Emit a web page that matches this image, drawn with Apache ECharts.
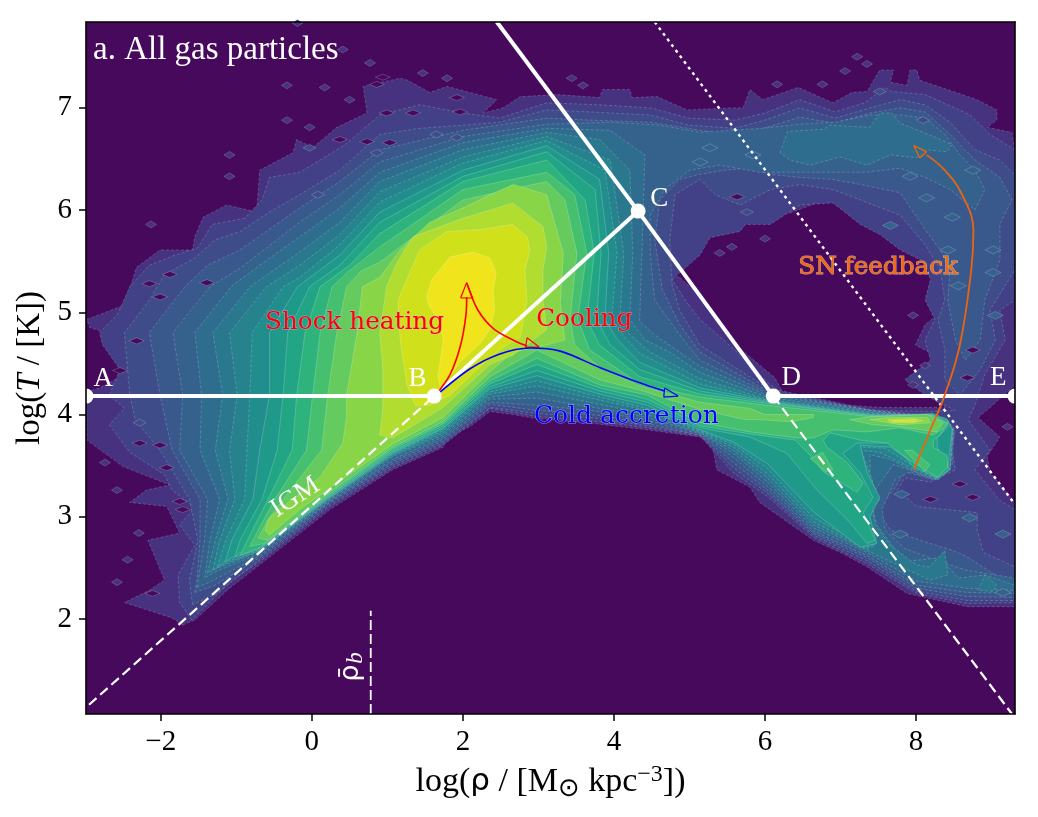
<!DOCTYPE html>
<html>
<head>
<meta charset="utf-8">
<script src="https://cdn.jsdelivr.net/npm/echarts@6/dist/echarts.min.js"></script>
<style>html,body{margin:0;padding:0;background:#fff}#chart{width:1038px;height:817px}</style>
</head>
<body>
<div id="chart"></div>
<script>
// Phase diagram of gas particles: filled density contours in the (log rho, log T) plane.
// Every contour is a list of x,y pairs in axis units: x = log rho, y = log T.
const xRange = [-2.99, 9.31];
const yRange = [1.07, 7.84];
const xTicks = [-2, 0, 2, 4, 6, 8];
const yTicks = [2, 3, 4, 5, 6, 7];
const bandColors = ['#46327e','#424086','#3e4c8a','#39588c','#34628d','#2f6d8e','#2a788e','#26838e','#218e8d','#1f998a','#22a585','#2eb37c','#46c06f','#65cb5e','#89d548','#b0dd2f','#d0e11c','#f0e51c'];

const contour01 = [-1.71,1.94,-1.85,2.01,-2.48,2.16,-2.15,2.28,-1.95,2.38,-2.17,2.77,-1.75,2.84,-1.92,3.10,-2.41,3.14,-2.19,3.26,-1.88,3.31,-2.50,3.49,-2.98,3.75,-2.98,3.98,-2.99,4.22,-2.81,4.26,-2.48,4.39,-2.65,4.61,-2.41,4.73,-2.94,4.85,-2.98,4.93,-2.48,5.07,-2.32,5.44,-2.01,5.61,-1.58,5.61,-1.55,5.74,-1.44,5.93,-1.13,6.05,-0.73,5.98,-0.69,6.39,-0.25,6.56,-0.20,6.69,0.01,6.61,0.33,6.81,0.73,6.95,0.68,7.21,1.17,7.29,1.27,7.27,1.56,7.15,1.79,7.21,2.45,7.08,2.27,6.95,2.53,7.00,2.76,7.11,3.25,7.13,3.81,7.10,3.85,7.18,4.21,7.18,4.24,7.10,4.57,7.11,4.97,6.98,5.58,7.00,5.71,7.00,5.80,7.18,5.97,7.08,6.44,7.20,6.90,7.05,7.15,7.15,7.35,7.16,7.52,7.37,7.70,7.37,7.66,7.25,7.88,7.22,7.92,7.37,8.01,7.37,8.05,7.27,8.81,7.08,9.07,6.98,9.07,6.88,8.94,6.81,9.27,6.76,9.31,6.56,9.31,4.29,8.98,4.07,8.82,3.97,9.11,3.78,8.94,3.59,8.98,3.43,9.31,3.14,9.31,2.12,8.68,2.12,7.88,2.25,7.35,2.51,7.00,2.65,6.64,2.77,5.93,3.14,5.80,3.29,5.36,3.46,5.31,3.68,5.14,3.78,4.44,3.85,3.64,3.92,2.98,3.96,2.66,4.00,2.36,4.03,2.09,3.88,1.79,3.78,1.74,3.68,1.07,3.46,0.24,3.07,-0.69,2.53,-1.09,2.30,-1.55,1.99];
const contour01Hole = [4.61,5.40,5.10,5.61,5.14,5.79,5.60,5.83,5.60,6.00,5.93,5.95,6.33,5.97,6.90,6.13,7.22,5.93,7.48,5.84,7.66,5.74,7.88,5.61,8.23,5.58,8.32,5.39,8.23,5.22,8.36,5.02,8.12,4.88,7.99,4.68,8.38,4.53,7.99,4.29,8.25,4.14,8.39,4.07,7.52,4.07,6.46,4.12,6.24,4.21,6.13,4.36,5.58,4.70,5.10,5.19,4.87,5.34];
const contour02 = [-1.59,1.99,-1.75,2.16,-1.77,2.43,-1.55,2.72,-1.75,2.92,-1.55,3.09,-1.85,3.26,-1.95,3.41,-2.41,3.63,-2.68,3.90,-2.48,4.06,-2.68,4.19,-2.54,4.44,-2.77,4.68,-2.81,4.80,-2.57,4.98,-2.41,5.25,-2.15,5.46,-1.81,5.56,-1.51,5.63,-1.32,5.86,-0.89,5.92,-0.66,6.10,-0.56,6.32,-0.16,6.37,0.11,6.49,0.44,6.64,0.90,6.93,1.43,7.03,2.00,6.95,2.49,6.90,3.11,7.05,3.81,7.03,4.48,7.00,4.99,6.90,5.60,6.88,6.00,6.95,6.46,7.08,6.93,6.96,7.32,7.05,7.59,7.20,7.68,7.16,8.12,7.13,8.72,6.93,8.98,6.74,9.31,6.59,9.31,5.12,9.11,5.02,9.18,4.73,8.91,4.39,8.78,4.09,8.69,3.95,8.98,3.65,8.78,3.46,9.11,3.16,9.31,3.07,9.31,2.16,8.68,2.15,8.01,2.25,7.35,2.54,6.64,2.80,6.03,3.20,5.58,3.43,5.14,3.79,4.44,3.87,3.81,3.93,2.98,3.98,2.36,4.06,1.74,3.70,1.07,3.48,0.24,3.10,-0.69,2.56,-1.09,2.36,-1.48,2.07];
const contour02Hole = [4.77,5.32,5.14,5.56,5.27,5.73,5.67,5.79,5.74,5.86,6.07,5.86,6.46,6.05,6.90,6.07,7.26,5.86,7.52,5.76,7.79,5.61,8.12,5.49,8.19,5.32,8.12,5.12,8.25,4.93,8.12,4.73,8.19,4.53,7.85,4.34,8.12,4.19,8.52,4.04,8.19,4.03,7.43,4.04,6.46,4.10,6.07,4.29,5.60,4.63,5.14,4.93,4.99,5.07];
const contour03 = [-1.58,2.14,-1.62,2.38,-1.51,2.77,-1.62,3.17,-2.01,3.65,-2.34,3.95,-2.41,4.19,-2.48,4.80,-2.15,5.12,-1.95,5.37,-1.55,5.53,-1.28,5.71,-0.95,5.79,-0.56,5.98,-0.16,6.15,0.37,6.39,0.90,6.74,1.43,6.80,2.00,6.83,2.49,6.86,3.11,6.98,3.68,6.96,4.48,6.93,4.99,6.83,5.60,6.80,6.00,6.88,6.46,7.00,6.93,6.90,7.39,7.00,7.79,7.08,8.12,7.03,8.45,6.86,8.78,6.59,9.11,6.49,9.31,6.34,9.31,5.42,8.98,5.02,9.05,4.73,8.85,4.44,8.58,4.19,8.38,4.34,8.38,4.63,8.29,4.93,8.38,5.12,8.32,5.42,8.12,5.66,7.79,5.95,7.26,6.10,6.90,6.20,6.46,6.25,6.07,6.20,5.67,6.05,5.34,6.15,5.14,6.30,4.81,6.15,4.74,5.71,4.77,5.27,4.87,5.02,5.14,4.68,6.03,4.26,7.39,4.05,8.38,3.97,8.52,3.85,8.48,3.65,8.52,3.46,8.19,3.34,7.85,3.38,7.75,3.26,8.01,3.10,8.81,3.04,8.81,2.87,8.89,2.65,9.31,2.51,9.31,2.18,8.68,2.18,8.01,2.27,7.35,2.57,6.64,2.82,6.03,3.23,5.58,3.48,5.14,3.80,4.44,3.89,3.81,3.96,2.98,4.01,2.36,4.07,1.74,3.72,1.07,3.50,0.24,3.12,-0.69,2.58,-1.28,2.24];
const contour04 = [-1.55,2.26,-1.52,2.38,-1.48,2.77,-1.48,3.17,-1.85,3.65,-2.01,4.19,-2.15,4.80,-1.68,5.25,-1.38,5.46,-0.95,5.61,-0.16,6.02,0.37,6.28,0.90,6.59,2.00,6.78,3.11,6.90,3.68,6.88,4.48,6.86,5.14,6.78,5.60,6.73,6.07,6.82,6.46,6.91,6.93,6.85,7.39,6.95,7.79,7.00,8.12,6.96,8.45,6.74,8.78,6.49,9.11,6.32,9.27,6.10,9.11,5.86,9.11,5.51,8.91,5.12,8.85,4.73,8.65,4.53,8.52,4.73,8.42,5.12,8.45,5.42,8.32,5.61,8.12,5.81,7.79,6.17,7.26,6.25,6.90,6.30,6.46,6.32,6.07,6.35,5.74,6.41,5.47,6.39,5.14,6.35,4.87,6.30,4.61,6.10,4.54,5.71,4.64,5.22,4.87,4.88,5.14,4.61,6.03,4.23,7.39,4.04,8.40,3.96,8.50,3.85,8.48,3.51,8.25,3.36,7.85,3.44,7.70,3.26,7.48,3.07,7.66,2.87,8.05,2.77,8.49,2.67,8.67,2.61,9.31,2.31,9.31,2.21,8.67,2.22,8.01,2.30,7.35,2.60,6.64,2.84,6.03,3.26,5.58,3.53,5.14,3.80,4.44,3.91,3.81,3.99,2.98,4.04,2.36,4.10,1.74,3.74,1.07,3.52,0.24,3.14,-0.69,2.60,-1.28,2.33];
const contour05 = [-1.52,2.31,-1.42,2.77,-1.38,3.17,-1.75,3.65,-1.71,4.19,-1.84,4.80,-1.35,5.25,-0.95,5.43,-0.16,5.88,0.37,6.15,0.90,6.47,2.00,6.72,3.11,6.84,3.97,6.86,4.61,6.83,5.14,6.76,5.54,6.78,5.97,6.80,6.46,6.84,6.93,6.86,7.39,6.93,7.79,6.93,8.12,6.90,8.38,6.74,8.58,6.54,8.78,6.39,8.91,6.20,8.78,6.00,8.45,6.20,8.12,6.32,7.79,6.41,7.32,6.37,6.90,6.37,6.46,6.37,5.93,6.37,5.40,6.44,5.00,6.39,4.67,6.20,4.48,5.95,4.48,5.58,4.54,5.12,4.87,4.78,5.14,4.53,6.03,4.21,7.39,4.04,8.41,3.95,8.49,3.85,8.46,3.51,8.25,3.36,7.92,3.44,7.72,3.36,7.55,3.07,7.59,2.87,7.85,2.69,8.25,2.58,8.65,2.48,9.31,2.40,9.31,2.25,8.67,2.26,8.01,2.33,7.35,2.62,6.64,2.86,6.03,3.30,5.58,3.58,5.14,3.81,4.44,3.94,3.81,4.03,2.98,4.09,2.36,4.12,1.74,3.76,1.07,3.54,0.24,3.15,-0.69,2.62,-1.35,2.36];
const contour06 = [-1.42,2.40,-1.35,2.77,-1.22,3.17,-1.48,3.65,-1.46,4.19,-1.55,4.80,-1.07,5.25,-0.69,5.46,-0.16,5.74,0.37,6.02,0.90,6.37,2.00,6.66,3.11,6.80,3.95,6.78,4.41,6.54,4.37,5.58,4.34,4.91,4.54,4.78,5.14,4.47,6.03,4.19,7.39,4.04,8.38,3.94,8.48,3.85,8.42,3.60,8.45,3.46,8.28,3.36,7.99,3.44,7.70,3.51,7.39,3.19,7.48,2.92,7.85,2.56,8.32,2.60,8.56,2.40,8.91,2.43,9.31,2.33,9.31,2.28,8.67,2.30,8.01,2.37,7.35,2.65,6.64,2.89,6.03,3.34,5.58,3.62,5.14,3.82,4.44,3.97,3.81,4.06,2.98,4.16,2.36,4.15,1.74,3.78,1.07,3.56,0.24,3.16,-0.69,2.64,-1.28,2.46];
const contour06Arch = [6.20,6.56,6.30,6.77,6.77,6.79,6.86,6.83,7.39,6.81,7.52,6.95,7.68,6.95,7.79,6.85,8.23,6.72,8.48,6.64,8.41,6.57,8.15,6.59,8.01,6.51,7.66,6.54,7.35,6.44,6.99,6.52,6.60,6.44,6.33,6.49];
const contour07 = [-1.38,2.45,-1.28,2.77,-1.11,3.17,-1.28,3.65,-1.18,4.19,-1.31,4.80,-0.82,5.25,-0.16,5.59,0.37,5.88,0.90,6.28,2.00,6.59,3.11,6.76,3.81,6.69,4.21,6.39,4.25,5.58,4.21,4.93,4.41,4.73,4.74,4.61,5.14,4.41,6.03,4.17,7.39,4.03,8.41,3.94,8.49,3.85,8.45,3.46,8.29,3.36,7.99,3.44,7.66,3.56,7.39,3.61,7.39,3.19,7.46,2.92,7.66,2.72,8.00,2.53,8.18,2.51,8.38,2.67,8.42,2.43,8.18,2.38,7.35,2.67,6.64,2.92,6.03,3.38,5.58,3.65,5.14,3.82,4.44,4.00,3.81,4.10,2.98,4.22,2.36,4.17,1.74,3.80,1.07,3.59,0.24,3.17,-0.69,2.66,-1.24,2.50];
const contour07Spot = [8.82,2.28,8.91,2.43,9.07,2.33,9.02,2.27];
const contour08 = [-1.31,2.48,-1.22,2.77,-1.02,3.17,-1.09,3.65,-0.99,4.19,-1.09,4.80,-0.60,5.25,-0.16,5.46,0.37,5.76,0.90,6.18,2.00,6.52,3.11,6.72,3.95,6.49,4.13,5.58,4.08,4.93,4.21,4.78,4.48,4.61,5.14,4.35,6.03,4.15,7.39,4.02,8.42,3.94,8.49,3.85,8.45,3.46,8.28,3.37,7.99,3.46,7.52,3.63,7.26,3.65,7.39,3.36,7.52,3.17,7.32,2.97,7.46,2.72,7.35,2.68,6.64,2.95,6.03,3.42,5.58,3.68,5.14,3.83,4.44,4.04,3.81,4.14,2.98,4.28,2.36,4.20,1.74,3.82,1.07,3.60,0.24,3.18,-0.69,2.67,-1.18,2.53];
const contour09 = [-1.25,2.51,-1.14,2.77,-0.89,3.17,-0.86,3.65,-0.82,4.19,-0.79,4.80,-0.38,5.25,-0.16,5.34,0.37,5.66,0.90,6.08,2.00,6.46,3.11,6.68,3.88,6.39,4.04,5.58,3.97,4.93,4.15,4.75,4.34,4.60,5.14,4.30,6.03,4.14,7.39,4.01,8.42,3.94,8.48,3.85,8.45,3.48,8.28,3.38,7.99,3.48,7.59,3.67,7.26,3.68,7.42,3.36,7.48,3.17,7.36,2.97,7.47,2.74,7.35,2.70,6.64,2.99,6.03,3.47,5.58,3.71,5.14,3.84,4.44,4.06,3.81,4.17,2.98,4.33,2.36,4.22,1.74,3.84,1.07,3.61,0.24,3.19,-0.69,2.67,-1.14,2.56];
const contour10 = [-1.15,2.56,-1.06,2.77,-0.78,3.17,-0.69,3.65,-0.56,4.19,-0.56,4.80,-0.19,5.25,0.37,5.56,0.90,5.98,2.00,6.39,3.11,6.63,3.81,6.30,3.93,5.58,3.88,4.93,4.05,4.73,4.34,4.51,5.14,4.26,6.03,4.13,7.39,4.00,8.42,3.94,8.48,3.85,8.42,3.48,8.28,3.39,7.99,3.51,7.66,3.68,7.26,3.70,7.35,3.43,7.52,3.19,7.39,3.00,7.48,2.74,7.26,2.70,6.64,3.05,6.03,3.52,5.58,3.73,5.14,3.85,4.44,4.09,3.81,4.20,2.98,4.38,2.36,4.25,1.74,3.86,1.07,3.62,0.24,3.19,-0.69,2.68,-1.06,2.60];
const contour11 = [-1.02,2.61,-0.95,2.77,-0.66,3.17,-0.46,3.65,-0.38,4.19,-0.32,4.80,-0.03,5.25,0.37,5.46,0.90,5.88,2.00,6.33,3.11,6.57,3.75,6.20,3.83,5.58,3.77,4.93,3.95,4.68,4.34,4.44,5.14,4.23,6.03,4.12,7.39,3.99,8.22,4.01,8.42,3.95,8.42,3.88,8.28,3.77,8.28,3.68,8.45,3.46,8.28,3.38,7.96,3.49,7.70,3.72,7.22,3.72,7.03,3.62,7.26,3.43,7.43,3.19,7.30,3.04,7.46,2.77,7.35,2.74,7.09,2.97,6.69,3.26,6.29,3.62,5.80,3.78,5.14,3.87,4.44,4.12,3.81,4.23,2.98,4.43,2.36,4.27,1.74,3.87,1.07,3.63,0.24,3.20,-0.69,2.69,-0.95,2.65];
const contour12 = [-0.95,2.62,-0.82,2.82,-0.58,3.17,-0.26,3.65,-0.20,4.19,-0.09,4.80,0.11,5.25,0.50,5.46,0.90,5.77,2.00,6.28,3.11,6.49,3.62,6.10,3.74,5.58,3.64,4.93,3.81,4.68,4.34,4.37,5.14,4.20,6.03,4.11,7.39,3.99,8.22,4.00,8.42,3.92,8.32,3.80,8.23,3.75,8.23,3.68,8.41,3.60,8.42,3.48,8.28,3.39,7.96,3.53,7.79,3.62,7.62,3.72,7.26,3.75,6.86,3.82,6.77,3.75,6.82,3.68,7.09,3.53,7.30,3.33,7.22,3.24,6.77,3.44,6.60,3.60,6.40,3.75,5.80,3.81,5.14,3.89,4.44,4.15,3.81,4.26,2.98,4.49,2.36,4.30,1.74,3.89,1.07,3.64,0.24,3.21,-0.69,2.70];
const contour13 = [-0.82,2.71,-0.71,2.87,-0.49,3.17,-0.07,3.65,0.01,4.19,0.11,4.80,0.27,5.25,0.50,5.41,0.90,5.64,2.00,6.20,3.11,6.37,3.48,6.15,3.64,5.58,3.52,4.93,3.68,4.63,4.34,4.30,5.14,4.17,6.03,4.09,7.39,3.98,8.22,3.99,8.41,3.91,8.38,3.87,8.22,3.80,7.79,3.87,7.35,3.83,6.90,3.85,6.64,3.77,6.43,3.77,5.80,3.83,5.14,3.92,4.44,4.19,3.81,4.29,2.98,4.55,2.36,4.33,1.74,3.91,1.07,3.66,0.24,3.22,-0.62,2.74];
const contour13ArmA = [6.60,3.57,6.76,3.63,6.90,3.46,6.80,3.44];
const contour13ArmB = [7.85,3.65,7.95,3.65,8.18,3.51,8.12,3.44];
const contour14 = [-0.71,2.79,-0.58,2.97,-0.38,3.17,0.13,3.65,0.21,4.19,0.33,4.80,0.46,5.25,0.66,5.41,0.90,5.49,2.00,6.10,3.11,6.28,3.35,6.10,3.51,5.58,3.42,4.93,3.48,4.68,3.81,4.46,4.34,4.28,5.14,4.12,5.80,4.06,6.00,4.00,6.64,4.00,6.64,3.97,6.33,3.93,5.93,3.95,5.73,3.95,5.14,4.05,4.34,4.24,3.81,4.34,2.98,4.63,2.36,4.37,1.74,3.93,1.07,3.68,0.24,3.24,-0.58,2.77];
const contour14Arm = [7.12,3.95,7.43,3.98,8.15,4.00,8.36,3.92,8.27,3.83,7.79,3.88,7.43,3.90];
const contour15 = [-0.62,2.87,-0.56,2.99,0.11,3.39,0.41,3.72,0.46,3.98,0.46,4.19,0.60,4.80,0.67,5.25,0.90,5.34,1.17,5.61,1.56,5.88,2.00,6.02,2.36,6.15,2.67,6.25,3.11,6.15,3.33,5.58,3.29,5.09,3.35,4.73,3.11,4.68,2.66,4.61,2.36,4.42,1.74,3.97,1.07,3.71,0.24,3.28,-0.16,3.07,-0.56,2.82];
const contour15Arm = [7.39,3.95,7.62,3.97,8.15,3.97,8.19,3.92,7.79,3.90];
const contour16 = [0.90,3.80,0.94,4.07,0.94,4.19,0.94,4.44,0.90,4.80,0.99,5.25,1.13,5.49,1.34,5.74,2.00,5.92,2.45,6.02,2.66,6.07,3.06,5.84,3.11,5.64,3.06,5.41,3.06,5.12,3.11,4.83,2.66,4.58,2.36,4.49,1.74,4.07,1.07,3.77];
const contour16Arm = [7.62,3.95,7.96,3.96,8.09,3.94,7.96,3.92,7.66,3.92];
const contour17 = [1.14,5.12,1.43,5.61,1.79,5.79,2.23,5.81,2.66,5.86,2.85,5.74,2.89,5.61,2.82,5.41,2.85,5.12,2.76,4.76,2.58,4.68,2.36,4.56,1.83,4.19,1.56,4.09,1.37,4.09,1.26,4.29,1.17,4.73];
const contour17Arm = [7.69,3.94,8.01,3.95,8.01,3.93,7.69,3.93];
const contour18 = [1.52,5.15,1.59,5.32,1.83,5.54,2.13,5.59,2.36,5.53,2.44,5.39,2.40,5.19,2.42,5.02,2.36,4.83,2.23,4.70,1.96,4.51,1.79,4.34,1.72,4.22,1.67,4.37,1.74,4.73,1.70,4.90,1.56,5.05];

// Isolated noise in the sparse outskirts: lone cells above the first level, empty cells inside it,
// and slightly fuller cells scattered through the low-density envelope.
const loneCells = [[-1.09,6.54],[-1.09,6.33],[-0.33,6.88],[-0.03,6.81],[-0.33,7.22],[0.41,7.57],[-2.13,5.86],[1.47,7.34],[1.79,7.29],[3.44,7.29],[3.59,7.22],[7.22,7.50],[7.35,7.43],[7.06,7.36],[6.16,7.23],[6.76,7.23],[6.00,5.72],[5.56,5.64],[5.40,5.58],[7.96,4.97],[8.12,4.48],[7.96,4.29],[-2.58,3.26],[-2.74,3.53],[-2.44,2.58],[-2.29,2.84],[-2.58,2.36],[-0.19,7.83],[0.77,7.44],[9.21,3.88],[0.50,7.08],[0.17,7.20]];
const emptyCells = [[-2.01,5.15],[-1.88,5.37],[-1.39,5.29],[-2.15,5.28],[0.37,6.69],[0.73,6.67],[0.86,7.23],[1.92,7.10],[1.34,6.95],[1.96,6.96],[0.94,7.30],[-2.32,4.72],[-2.54,4.43],[-2.28,3.72],[-2.01,3.70],[-1.92,3.48],[-1.75,3.15],[-2.11,2.25],[5.63,6.13],[8.68,4.36],[0.99,6.95],[1.03,6.66],[8.75,4.63],[8.19,3.17],[8.58,3.32],[8.75,3.19],[-1.71,3.07]];
const fullerCells = [[-2.28,3.92],[-0.03,6.61],[0.86,6.56],[0.08,6.15],[1.65,6.74],[1.92,6.71],[8.09,6.88],[7.52,7.16],[5.76,5.98]];
const denseCells = [[8.75,6.39],[7.92,6.33],[8.14,6.12],[8.48,5.93],[7.66,5.85],[9.02,5.61],[8.42,5.61],[9.02,5.39],[8.56,5.26],[9.05,4.97],[5.27,6.61],[5.84,6.54],[5.14,6.47],[7.81,3.22],[7.79,2.83],[8.71,2.99],[9.15,2.83],[9.15,2.26]];

// Fiducial phase lines.
const lineAB = [[-2.99,4.18],[1.62,4.18]];
const lineBC = [[1.62,4.18],[4.32,5.99]];
const lineCTop = [[2.45,7.84],[4.32,5.99]];
const lineCD = [[4.32,5.99],[6.11,4.18]];
const lineDE = [[6.11,4.18],[9.31,4.18]];
const lineDotted = [[4.54,7.84],[9.31,3.12]];
const lineIGM = [[-2.95,1.16],[1.62,4.18]];
const lineDiagonal = [[6.11,4.18],[9.27,1.07]];
const lineMeanDensity = [[0.78,1.07],[0.78,2.08]];
const phaseNodes = [[-2.99,4.18],[1.62,4.18],[4.32,5.99],[6.11,4.18],[9.31,4.18]];

// Evolution tracks with their arrow heads.
const trackShock = [[1.62,4.17],[1.83,4.39],[1.97,4.68],[2.04,4.97],[2.05,5.15]];
const headShock = [[1.97,5.14],[2.05,5.29],[2.13,5.14],[1.97,5.14]];
const trackCooling = [[2.05,5.29],[2.20,5.02],[2.42,4.83],[2.69,4.72],[2.85,4.67]];
const headCooling = [[2.85,4.75],[3.01,4.66],[2.83,4.66],[2.85,4.75]];
const trackCold = [[1.62,4.17],[2.08,4.44],[2.48,4.59],[2.89,4.65],[3.29,4.62],[3.81,4.46],[4.34,4.31],[4.67,4.23]];
const headCold = [[4.67,4.26],[4.85,4.18],[4.66,4.17],[4.67,4.26]];
const trackFeedback = [[7.97,3.46],[8.19,3.85],[8.38,4.19],[8.58,4.68],[8.73,5.41],[8.76,5.80],[8.61,6.15],[8.38,6.39],[8.14,6.54]];
const headFeedback = [[8.05,6.51],[7.97,6.63],[8.14,6.57],[8.05,6.51]];

const bands = [
  {rings:[contour01], holes:[contour01Hole]},
  {rings:[contour02], holes:[contour02Hole]},
  {rings:[contour03]},
  {rings:[contour04]},
  {rings:[contour05]},
  {rings:[contour06, contour06Arch]},
  {rings:[contour07, contour07Spot]},
  {rings:[contour08]},
  {rings:[contour09]},
  {rings:[contour10]},
  {rings:[contour11]},
  {rings:[contour12]},
  {rings:[contour13, contour13ArmA, contour13ArmB]},
  {rings:[contour14, contour14Arm]},
  {rings:[contour15, contour15Arm]},
  {rings:[contour16, contour16Arm]},
  {rings:[contour17, contour17Arm]},
  {rings:[contour18]}
];

// Turns a flat x,y list into a closed subpath; the winding decides whether it fills or cuts.
function ringPath(flat, api, clockwise) {
  const pts = [];
  for (let i = 0; i < flat.length; i += 2) pts.push(api.coord([flat[i], flat[i + 1]]));
  let area = 0;
  pts.forEach((p, i) => { const q = pts[(i + 1) % pts.length]; area += p[0] * q[1] - q[0] * p[1]; });
  if ((area > 0) !== clockwise) pts.reverse();
  return 'M' + pts.map(p => p[0].toFixed(1) + ' ' + p[1].toFixed(1)).join('L') + 'Z';
}

function renderBand(params, api) {
  const band = bands[params.dataIndex];
  let d = band.rings.map(r => ringPath(r, api, true)).join('');
  if (band.holes) d += band.holes.map(r => ringPath(r, api, false)).join('');
  return {
    type: 'path',
    shape: { pathData: d },
    style: {
      fill: bandColors[params.dataIndex],
      stroke: 'rgba(255,255,255,0.32)',
      lineWidth: 0.6,
      lineDash: params.dataIndex < 9 ? [3, 2] : null
    }
  };
}

const whiteLine = (data, width, dash) => ({
  type: 'line', data, showSymbol: false, silent: true, z: 6, clip: true,
  lineStyle: { color: '#fff', width, type: dash || 'solid', cap: 'butt' }
});
const curve = (data, color, width, smooth) => ({
  type: 'line', data, showSymbol: false, silent: true, z: 7, smooth,
  lineStyle: { color, width }
});
const cells = (data, size, color) => ({
  type: 'scatter', data, symbol: 'diamond', symbolSize: size, silent: true, z: 3,
  itemStyle: { color, opacity: 1, borderColor: 'rgba(255,255,255,0.3)', borderWidth: 0.6 }
});
const serif = 'Liberation Serif';
const dejavu = 'DejaVu Serif';
const note = (x, y, text, color, font, size, extra) => ({
  value: [x, y],
  label: {
    show: true, position: 'inside', formatter: text, color, fontFamily: font, fontSize: size,
    align: 'left', verticalAlign: 'middle', ...extra
  }
});
const outlined = (c) => ({ textBorderColor: c, textBorderWidth: 1 });

const annotations = [
  note(-0.62, 4.90, 'Shock heating', '#ff0000', dejavu, 24.7, outlined('rgba(225,190,255,0.6)')),
  note(2.97, 4.93, 'Cooling', '#ff0000', dejavu, 24.7, outlined('rgba(225,190,255,0.6)')),
  note(2.94, 3.98, 'Cold accretion', '#0000ff', dejavu, 25, outlined('rgba(225,220,255,0.6)')),
  note(6.44, 5.44, 'SN feedback', '#f26a13', dejavu, 24.7, outlined('rgba(255,215,170,0.7)')),
  note(-2.89, 4.35, 'A', '#fff', serif, 27),
  note(1.28, 4.35, 'B', '#fff', serif, 27),
  note(4.48, 6.11, 'C', '#fff', serif, 27),
  note(6.22, 4.36, 'D', '#fff', serif, 27),
  note(8.98, 4.36, 'E', '#fff', serif, 27),
  note(-0.22, 3.19, 'IGM', '#fff', serif, 27, { align: 'center', rotate: 33 }),
  note(0.52, 1.53, '{r|ρ̄}{b|b}', '#fff', serif, 27, {
    align: 'center', rotate: 90,
    rich: { r: { fontFamily: 'DejaVu Sans', fontSize: 27, color: '#fff' },
            b: { fontFamily: serif, fontStyle: 'italic', fontSize: 23, color: '#fff', padding: [10, 0, 0, 1] } }
  })
];

const axisText = { color: '#000', fontFamily: serif, fontSize: 29 };
const minusSign = v => String(v).replace('-', '\u2212');
const frameLine = { show: true, lineStyle: { color: '#000', width: 1.6 } };

const chart = echarts.init(document.getElementById('chart'), null, { renderer: 'canvas' });
chart.setOption({
  animation: false,
  backgroundColor: '#fff',
  title: {
    text: 'a. All gas particles', left: 88, top: 29,
    textStyle: { color: '#fff', fontFamily: serif, fontSize: 33, fontWeight: 'normal' }
  },
  grid: { show: true, left: 86, top: 22, width: 929, height: 692, backgroundColor: '#46095c', borderWidth: 0 },
  xAxis: [{
    type: 'value', min: xRange[0], max: xRange[1], z: 10,
    axisLine: Object.assign({ onZero: false }, frameLine),
    axisTick: { show: true, length: 7, customValues: xTicks, lineStyle: { color: '#000', width: 1.5 } },
    axisLabel: Object.assign({ customValues: xTicks, margin: 14, formatter: minusSign }, axisText),
    splitLine: { show: false },
    name: '{t|log(}{g|ρ}{t| / [M}{s|⊙}{t| kpc}{u|−3}{t|])}',
    nameLocation: 'middle', nameGap: 48,
    nameTextStyle: {
      rich: {
        t: { fontFamily: serif, fontSize: 34, color: '#000' },
        g: { fontFamily: 'DejaVu Sans', fontSize: 31, color: '#000' },
        s: { fontFamily: 'DejaVu Sans', fontSize: 26, color: '#000', padding: [14, 0, 0, 0] },
        u: { fontFamily: serif, fontSize: 24, color: '#000', padding: [0, 0, 14, 0] }
      }
    }
  }, {
    type: 'value', position: 'top', min: xRange[0], max: xRange[1], z: 10,
    axisLine: Object.assign({ onZero: false }, frameLine),
    axisTick: { show: false }, axisLabel: { show: false }, splitLine: { show: false }
  }],
  yAxis: [{
    type: 'value', min: yRange[0], max: yRange[1], z: 10,
    axisLine: Object.assign({ onZero: false }, frameLine),
    axisTick: { show: true, length: 7, customValues: yTicks, lineStyle: { color: '#000', width: 1.5 } },
    axisLabel: Object.assign({ customValues: yTicks, margin: 14 }, axisText),
    splitLine: { show: false },
    name: '{t|log(}{i|T}{t| / [K])}',
    nameLocation: 'middle', nameGap: 38,
    nameTextStyle: {
      rich: {
        t: { fontFamily: serif, fontSize: 33, color: '#000' },
        i: { fontFamily: serif, fontSize: 33, fontStyle: 'italic', color: '#000' }
      }
    }
  }, {
    type: 'value', position: 'right', min: yRange[0], max: yRange[1], z: 10,
    axisLine: Object.assign({ onZero: false }, frameLine),
    axisTick: { show: false }, axisLabel: { show: false }, splitLine: { show: false }
  }],
  series: [
    { type: 'custom', renderItem: renderBand, data: bands.map((b, i) => [i]), silent: true, clip: true, z: 2 },
    cells(loneCells, [11, 7], bandColors[0]),
    cells(emptyCells, [15, 6], '#46095c'),
    cells(fullerCells, [13, 7], bandColors[2]),
    cells(denseCells, [16, 8], bandColors[4]),
    whiteLine(lineAB, 4), whiteLine(lineBC, 4), whiteLine(lineCTop, 4), whiteLine(lineCD, 4), whiteLine(lineDE, 4),
    whiteLine(lineDotted, 2.4, [3, 4]),
    whiteLine(lineIGM, 2.2, [10, 5]), whiteLine(lineDiagonal, 2.2, [10, 5]), whiteLine(lineMeanDensity, 1.8, [10, 4]),
    { type: 'scatter', data: phaseNodes, symbolSize: 15, silent: true, z: 8, clip: true, itemStyle: { color: '#fff', opacity: 1 } },
    curve(trackShock, '#ff0000', 1.6, 0.3), curve(headShock, '#ff0000', 1.2, false),
    curve(trackCooling, '#ff0000', 1.6, 0.3), curve(headCooling, '#ff0000', 1.2, false),
    curve(trackCold, '#0000ff', 1.6, 0.3), curve(headCold, '#0000ff', 1.2, false),
    curve(trackFeedback, '#ec6410', 1.8, 0.4), curve(headFeedback, '#ec6410', 1.3, false),
    { type: 'scatter', data: annotations, symbolSize: 0, silent: true, z: 9, clip: false, itemStyle: { opacity: 1 } }
  ]
});
</script>
</body>
</html>
